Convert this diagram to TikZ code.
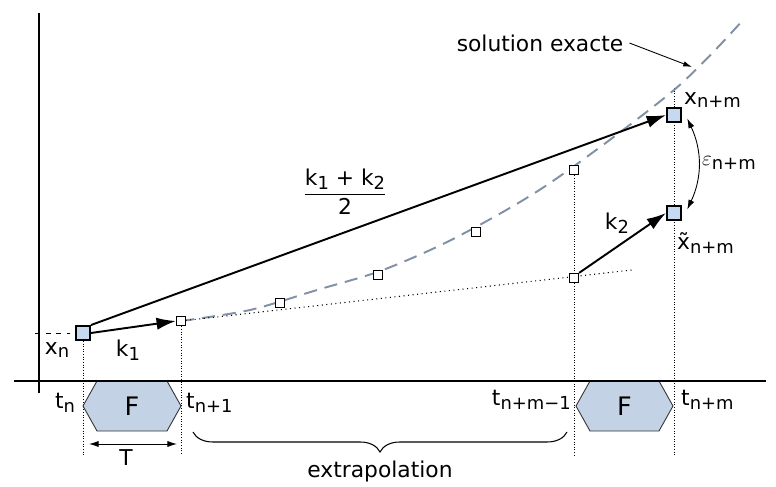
\documentclass[tikz,border=0pt]{standalone}
\usepackage{amsmath}
\usepackage{fontspec}
\setmainfont{DejaVu Sans}
\usetikzlibrary{arrows.meta, positioning, decorations.pathreplacing}

\definecolor{ptblue}{HTML}{C6D9F1}
\definecolor{hexblue}{HTML}{C4D2E5}
\definecolor{curvegray}{HTML}{8191A5}
\newcommand{\idx}[1]{\raisebox{-2.2pt}{\fontsize{10.2}{12}\selectfont #1}}

\begin{document}
\begin{tikzpicture}[
    font=\fontsize{12.4}{14}\selectfont,
    bigpt/.style={draw, line width=1.1pt, fill=ptblue, minimum size=0.28cm, inner sep=0pt},
    smallpt/.style={draw, line width=0.7pt, fill=white, minimum size=0.18cm, inner sep=0pt},
    guide/.style={densely dotted, line width=0.5pt},
    hexa/.style={draw=black!80, line width=0.5pt, fill=hexblue},
    arr/.style={-{Latex[length=11pt,width=7pt]}, line width=1.1pt},
    thinarr/.style={-{Latex[length=5pt,width=3pt]}, line width=0.5pt},
    epsarr/.style={{Latex[length=5.5pt,width=3.5pt]}-{Latex[length=5.5pt,width=3.5pt]}, line width=0.5pt}
]
    \useasboundingbox (0,0) rectangle (15.52,9.72);

    % points of the scheme
    \coordinate (Pn) at (1.66,3.06);
    \coordinate (P1) at (3.62,3.30);
    \coordinate (Q) at (11.48,4.16);
    \coordinate (P5) at (11.48,6.32);
    \coordinate (Pnm) at (13.48,7.42);
    \coordinate (Pt) at (13.48,5.46);
    \coordinate (base) at (0,0.62);
    \coordinate (top) at (0,7.96);

    % vertical guides
    \draw[guide] (Pn) -- (Pn |- base);
    \draw[guide] (P1) -- (P1 |- base);
    \draw[guide] (P5) -- (P5 |- base);
    \draw[guide] (Pnm |- top) -- (Pnm |- base);

    % integrator blocks
    \draw[hexa] (1.66,1.60) -- (1.94,2.10) -- (3.34,2.10) -- (3.62,1.60) -- (3.34,1.10) -- (1.94,1.10) -- cycle;
    \node[font=\fontsize{14.5}{16}\selectfont] (F1) at (2.64,1.60) {F};
    \draw[hexa] (11.52,1.60) -- (11.80,2.10) -- (13.18,2.10) -- (13.46,1.60) -- (13.18,1.10) -- (11.80,1.10) -- cycle;
    \node[font=\fontsize{14.5}{16}\selectfont] (F2) at (12.49,1.60) {F};

    % axes
    \draw[line width=1.2pt] (0.78,1.86) -- (0.78,9.46);
    \draw[line width=1.2pt] (0.28,2.10) -- (15.32,2.10);
    \draw[dashed, line width=0.5pt] (0.70,3.06) -- (1.40,3.06);

    % exact solution and tangent
    \draw[curvegray, line width=1.1pt, dash pattern=on 7.5pt off 4.5pt]
        plot[smooth] coordinates {(3.62,3.30) (5.00,3.52) (6.34,3.92) (7.66,4.32) (9.14,4.98) (11.00,6.06) (13.48,7.92) (14.86,9.32)};
    \coordinate (tanend) at (12.64,4.32);
    \draw[dotted, line width=0.6pt] (P1) -- (tanend);

    % boxes
    \node[bigpt] (xn) at (Pn) {};
    \node[smallpt] (p1) at (P1) {};
    \node[smallpt] (p2) at (5.60,3.66) {};
    \node[smallpt] (p3) at (7.56,4.22) {};
    \node[smallpt] (p4) at (9.52,5.08) {};
    \node[smallpt] (p5) at (P5) {};
    \node[smallpt] (q) at (Q) {};
    \node[bigpt] (xnm) at (Pnm) {};
    \node[bigpt] (xt) at (Pt) {};

    % slopes
    \draw[arr] (xn.east) -- (p1.west);
    \draw[arr] (xn.north east) -- (xnm.west);
    \draw[arr] (q.north east) -- (xt.west);
    \draw[epsarr] ([xshift=3pt,yshift=-2pt]xnm.east) to[bend left=25] ([xshift=3pt,yshift=2pt]xt.east);

    % labels
    \node (lxn) at (1.14,2.72) {x\idx{n}};
    \node (lk1) at (2.56,2.72) {k\idx{1}};
    \node (ltn) at (1.30,1.66) {t\idx{n}};
    \node[right] (ltn1) at (3.60,1.66) {t\idx{n+1}};
    \node[left] (ltnm1) at (11.54,1.72) {t\idx{n+m−1}};
    \node[right] (ltnm) at (13.50,1.72) {t\idx{n+m}};
    \node[right] (lxnm) at (13.56,7.72) {x\idx{n+m}};
    \node[right] (lxt) at (13.42,4.86) {\~{x}\idx{n+m}};
    \node[right] (leps) at (13.92,6.46) {$\varepsilon$\idx{n+m}};
    \node (lk2) at (12.34,5.26) {k\idx{2}};
    \node (lmoy) at (6.90,5.88) {$\dfrac{\text{k\idx{1} + k\idx{2}}}{\text{2}}$};

    % exact solution label
    \node (lsol) at (10.80,8.86) {solution exacte};
    \coordinate (solpt) at (13.84,8.38);
    \draw[thinarr] (lsol.east) -- (solpt);

    % step and extrapolation
    \coordinate (Ta) at (1.78,0.84);
    \coordinate (Tb) at (3.54,0.84);
    \draw[epsarr] (Ta) -- (Tb);
    \node (lT) at (2.52,0.56) {T};
    \coordinate (bra) at (3.86,1.08);
    \coordinate (brb) at (11.34,1.08);
    \draw[decorate, decoration={brace, mirror, amplitude=0.40cm}, line width=0.6pt] (bra) -- (brb);
    \node (lext) at (7.60,0.30) {extrapolation};
\end{tikzpicture}
\end{document}
